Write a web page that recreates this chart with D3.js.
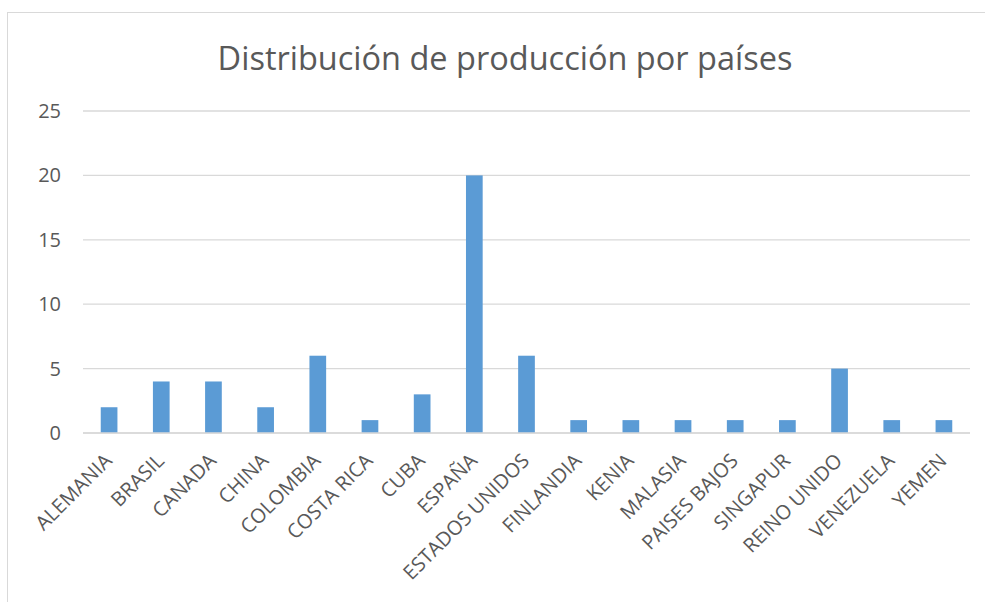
<!DOCTYPE html>
<html>
<head>
<meta charset="utf-8">
<script src="https://cdn.jsdelivr.net/npm/d3@7"></script>
<style>
  body { margin: 0; background: #fff; }
  text { font-family: "Open Sans", "Noto Sans", sans-serif; fill: #595959; }
</style>
</head>
<body>
<script>
// datos
var paises = ["ALEMANIA", "BRASIL", "CANADA", "CHINA", "COLOMBIA", "COSTA RICA", "CUBA",
  "ESPAÑA", "ESTADOS UNIDOS", "FINLANDIA", "KENIA", "MALASIA", "PAISES BAJOS",
  "SINGAPUR", "REINO UNIDO", "VENEZUELA", "YEMEN"];
var produccion = [2, 4, 4, 2, 6, 1, 3, 20, 6, 1, 1, 1, 1, 1, 5, 1, 1];
var yTicks = [0, 5, 10, 15, 20, 25];
var titulo = "Distribución de producción por países";

var W = 985, H = 602;
var margin = { top: 111, right: 15, bottom: 169, left: 83 };
var width = W - margin.left - margin.right,
    height = H - margin.top - margin.bottom;

var svg = d3.select("body").append("svg")
    .attr("width", W)
    .attr("height", H);

// marco del grafico
svg.append("rect")
    .attr("x", 7.5).attr("y", 12.5)
    .attr("width", W + 20).attr("height", H + 20)
    .attr("fill", "none")
    .attr("stroke", "#d9d9d9");

svg.append("text")
    .attr("x", 505)
    .attr("y", 70)
    .attr("text-anchor", "middle")
    .style("font-size", "32.5px")
    .text(titulo);

var g = svg.append("g")
    .attr("transform", "translate(" + margin.left + "," + margin.top + ")");

var x = d3.scaleBand()
    .domain(paises)
    .range([0, width])
    .paddingInner(0.68)
    .paddingOuter(0.34);

var y = d3.scaleLinear()
    .domain([0, 25])
    .range([height, 0]);

// lineas de cuadricula
g.append("g")
    .selectAll("line")
    .data(yTicks)
    .enter().append("line")
    .attr("x1", 0).attr("x2", width)
    .attr("y1", function (d) { return y(d); })
    .attr("y2", function (d) { return y(d); })
    .attr("stroke", "#d9d9d9")
    .attr("stroke-width", 1.3);

var yAxis = d3.axisLeft(y).tickValues(yTicks).tickSize(0).tickPadding(22);
g.append("g")
    .call(yAxis)
    .call(function (s) { s.select(".domain").remove(); })
    .selectAll("text")
    .style("font-size", "20px")
    .attr("fill", "#595959");

g.selectAll(".bar")
    .data(produccion)
    .enter().append("rect")
    .attr("class", "bar")
    .attr("x", function (d, i) { return x(paises[i]); })
    .attr("y", function (d) { return y(d); })
    .attr("width", x.bandwidth())
    .attr("height", function (d) { return height - y(d); })
    .attr("fill", "#5b9bd5");

// eje x
g.append("line")
    .attr("x1", 0).attr("x2", width)
    .attr("y1", height).attr("y2", height)
    .attr("stroke", "#d9d9d9")
    .attr("stroke-width", 1.5);

g.append("g")
    .selectAll("text")
    .data(paises)
    .enter().append("text")
    .attr("transform", function (d) {
      var cx = x(d) + x.bandwidth() / 2 + 4;
      return "translate(" + cx + "," + (height + 29) + ") rotate(-45)";
    })
    .attr("text-anchor", "end")
    .style("font-size", "20px")
    .text(function (d) { return d; });
</script>
</body>
</html>
